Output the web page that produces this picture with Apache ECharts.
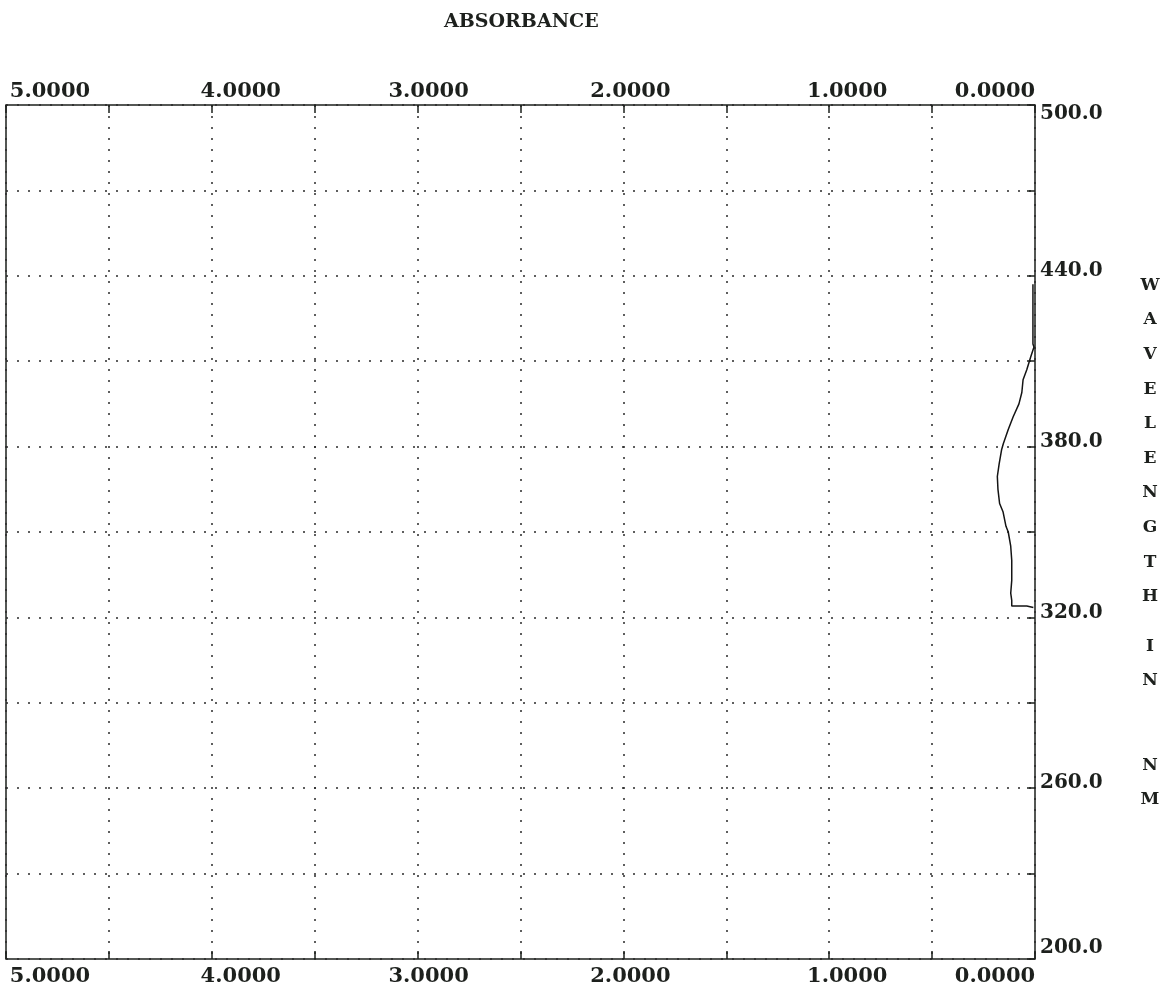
<!DOCTYPE html>
<html>
<head>
<meta charset="utf-8">
<script src="https://cdn.jsdelivr.net/npm/echarts@6/dist/echarts.min.js"></script>
<style>
  html, body { margin: 0; padding: 0; background: #ffffff; }
  #chart { width: 1169px; height: 992px; }
</style>
</head>
<body>
<div id="chart"></div>
<script>
// Absorbance spectrum, wavelength (nm) on the vertical axis, absorbance on the horizontal axis
const wavelengths = [437, 430, 422, 416, 415, 411.5, 407, 403.5, 399, 395, 390.5, 386, 381, 379,
  374, 369.5, 365, 360, 357, 352, 350, 345, 340, 333, 328.5, 326, 324, 324, 323.5];
const absorbance = [0.010, 0.010, 0.010, 0.010, 0.005, 0.021, 0.040, 0.058, 0.064, 0.078, 0.106, 0.130, 0.154, 0.162,
  0.174, 0.183, 0.180, 0.172, 0.155, 0.141, 0.130, 0.118, 0.113, 0.113, 0.118, 0.113, 0.113, 0.040, 0.008];

// Axis ranges and labelled ticks
const absRange = [0, 5];
const absStep = 0.5;
const wlRange = [200, 500];
const wlStep = 30;
const absTickLabels = [5, 4, 3, 2, 1, 0];
const wlTickLabels = [500, 440, 380, 320, 260, 200];

const INK = '#1d201d';
const FONT = '"DejaVu Serif", serif';

const points = wavelengths.map((w, i) => [absorbance[i], w]);

// per-label nudges along the absorbance axis (left/right padding in px)
const absPad = { 5: [0, 0, 0, 88], 4: [0, 0, 0, 58], 3: [0, 0, 0, 22], 2: [0, 0, 0, 14], 1: [0, 0, 0, 36], 0: [0, 80, 0, 0] };
const absRich = {};
absTickLabels.forEach(v => {
  absRich['a' + v] = { fontFamily: FONT, fontWeight: 'bold', fontSize: 21, color: INK, padding: absPad[v] };
});
const wlRich = {
  top: { fontFamily: FONT, fontWeight: 'bold', fontSize: 20, color: INK, padding: [18, 0, 0, 0] },
  bot: { fontFamily: FONT, fontWeight: 'bold', fontSize: 20, color: INK, padding: [0, 0, 22, 0] },
  mid: { fontFamily: FONT, fontWeight: 'bold', fontSize: 20, color: INK, padding: [0, 0, 10, 0] }
};

function absLabel(v) {
  const r = Math.round(v * 10) / 10;
  if (!absTickLabels.includes(r)) return '';
  return '{a' + r + '|' + r.toFixed(4) + '}';
}
function wlLabel(v) {
  if (!wlTickLabels.includes(v)) return '';
  const key = v === wlRange[1] ? 'top' : (v === wlRange[0] ? 'bot' : 'mid');
  return '{' + key + '|' + v.toFixed(1) + '}';
}

const dotted = { color: '#2a2a2a', width: 1.5, type: [2, 9] };

function absAxis(pos, withGrid, margin) {
  return {
    type: 'value',
    position: pos,
    min: absRange[0], max: absRange[1], interval: absStep,
    inverse: true,
    axisLine: { show: false },
    axisTick: { show: true, inside: true, length: 8, lineStyle: { color: INK, width: 1.5 } },
    splitLine: { show: withGrid, lineStyle: dotted },
    axisLabel: { show: true, margin: margin, formatter: absLabel, rich: absRich, hideOverlap: false }
  };
}

const letterStyle = { font: 'bold 17px ' + FONT, fill: INK, align: 'center', verticalAlign: 'top' };

const chart = echarts.init(document.getElementById('chart'), null, { renderer: 'canvas' });
chart.setOption({
  backgroundColor: '#ffffff',
  animation: false,
  title: {
    text: 'ABSORBANCE',
    left: 439, top: 8,
    textStyle: { fontFamily: FONT, fontWeight: 'bold', fontSize: 19, color: INK }
  },
  grid: {
    left: 6, right: 134, top: 105, bottom: 33,
    show: true, borderColor: INK, borderWidth: 1.5, backgroundColor: 'transparent'
  },
  xAxis: [absAxis('top', true, 3), absAxis('bottom', false, 7)],
  yAxis: {
    type: 'value',
    position: 'right',
    min: wlRange[0], max: wlRange[1], interval: wlStep,
    axisLine: { show: false },
    axisTick: { show: true, inside: true, length: 8, lineStyle: { color: INK, width: 1.5 } },
    splitLine: { show: true, lineStyle: dotted },
    axisLabel: { show: true, margin: 5, formatter: wlLabel, rich: wlRich, hideOverlap: false }
  },
  graphic: [
    { type: 'text', x: 1150, y: 268, style: Object.assign({ text: 'W\nA\nV\nE\nL\nE\nN\nG\nT\nH', lineHeight: 34.6 }, letterStyle) },
    { type: 'text', x: 1150, y: 630, style: Object.assign({ text: 'I\nN', lineHeight: 34 }, letterStyle) },
    { type: 'text', x: 1150, y: 749, style: Object.assign({ text: 'N\nM', lineHeight: 34 }, letterStyle) }
  ],
  series: [{
    type: 'line',
    xAxisIndex: 0,
    yAxisIndex: 0,
    data: points,
    showSymbol: false,
    lineStyle: { color: '#141414', width: 1.5 }
  }]
});
</script>
</body>
</html>
